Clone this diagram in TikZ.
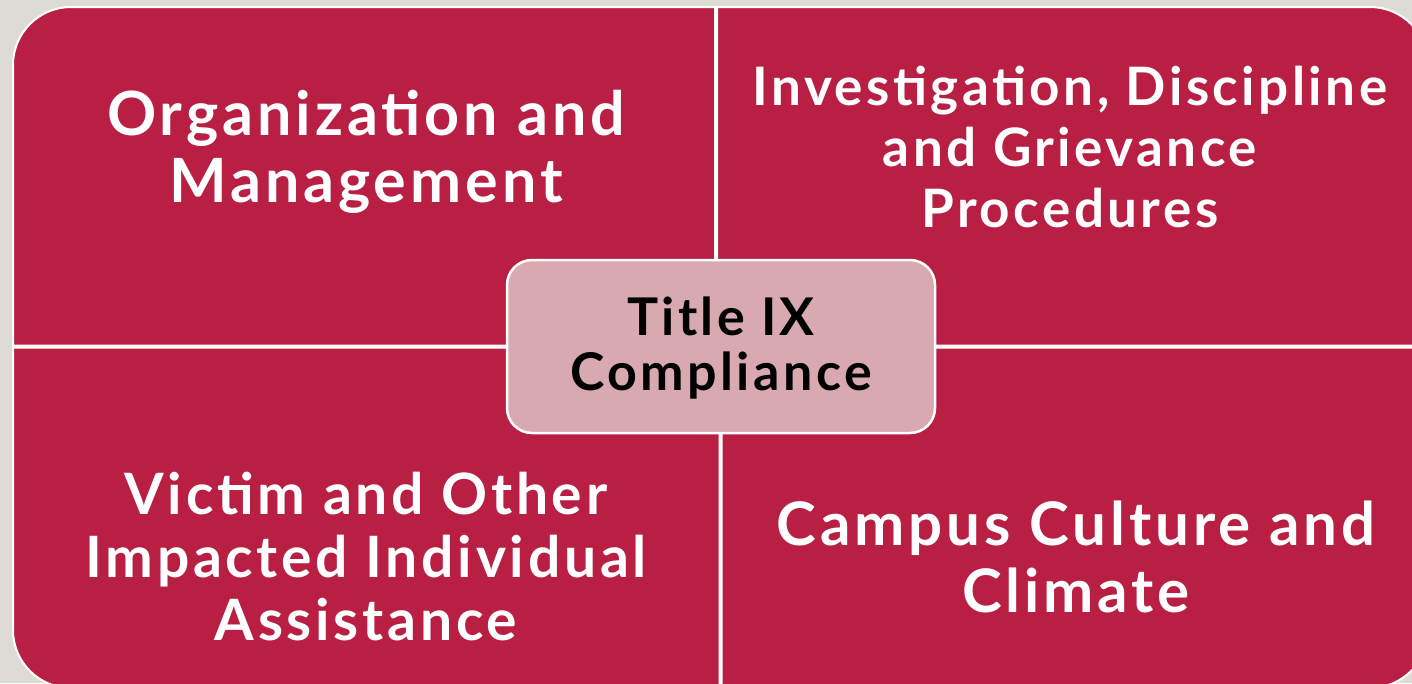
\documentclass[tikz,border=0pt]{standalone}
\usepackage{fontspec}
\setmainfont{Lato}[LetterSpace=6.5]
\definecolor{bggray}{RGB}{221,219,214}
\definecolor{quadred}{RGB}{185,31,67}
\definecolor{centerpink}{RGB}{216,169,176}
\begin{document}
\begin{tikzpicture}[x=1pt,y=-1pt,
  quad/.style={fill=quadred,draw=white,line width=2pt},
  qtext/.style={text=white,align=center,inner sep=0pt,anchor=base,font=\bfseries},
  centerbox/.style={fill=centerpink,draw=white,line width=2.5pt,rounded corners=25pt,
    minimum width=428pt,minimum height=173pt,inner sep=0pt},
  ctext/.style={text=black,align=center,inner sep=0pt,anchor=base,font=\bfseries\fontsize{52}{55}\selectfont}]
\fill[bggray] (0,0) rectangle (1412,683);
\useasboundingbox (0,0) rectangle (1412,683);
% quadrants
\path[quad] (13,345.5) -- (13,150) [rounded corners=58pt] -- (13,7) -- (300,7) [sharp corners] -- (715,7) -- (715,345.5) -- cycle;
\path[quad] (717,345.5) -- (717,7) -- (1100,7) [rounded corners=58pt] -- (1428,7) -- (1428,200) [sharp corners] -- (1428,345.5) -- cycle;
\path[quad] (719.5,347.5) -- (719.5,688) -- (300,688) [rounded corners=58pt] -- (13,688) -- (13,500) [sharp corners] -- (13,347.5) -- cycle;
\path[quad] (721.5,347.5) -- (1428,347.5) -- (1428,500) [rounded corners=58pt] -- (1428,688) -- (1100,688) [sharp corners] -- (721.5,688) -- cycle;
% texts
\node[qtext,font=\bfseries\fontsize{61}{67}\selectfont] (org) at (366,202) {Organization and\\Management};
\node[qtext,font=\bfseries\fontsize{53}{61}\selectfont] (inv) at (1070,227) {Investigation, Discipline\\and Grievance\\Procedures};
\node[qtext,font=\bfseries\fontsize{57}{63}\selectfont] (vic) at (366,640) {Victim and Other\\Impacted Individual\\Assistance};
\node[qtext,font=\bfseries\fontsize{60}{67}\selectfont] (cam) at (1076,612) {Campus Culture and\\Climate};
% center
\node[centerbox] (ctr) at (721,346.5) {};
\node[ctext] (ctrtext) at (721,390) {Title IX\\Compliance};
\end{tikzpicture}
\end{document}
